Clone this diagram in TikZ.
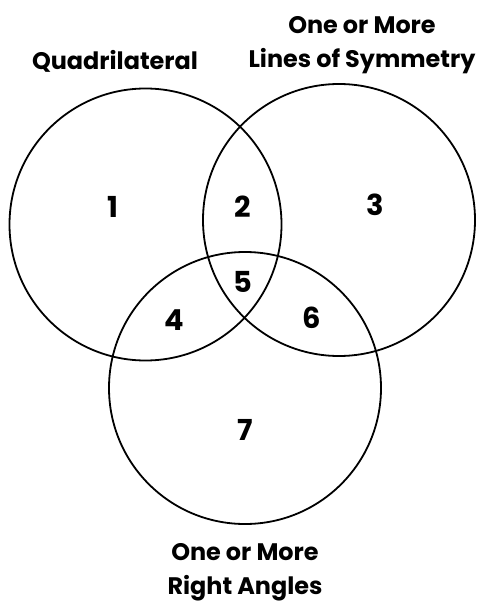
\documentclass[tikz,border=0pt]{standalone}
\usepackage{fontspec}
\setmainfont{Poppins}[UprightFont=* Bold]
\begin{document}
\begin{tikzpicture}[x=1bp,y=-1bp,
  ring/.style={draw,line width=1.8bp,circle,minimum size=272bp,inner sep=0pt},
  num/.style={font=\fontsize{29}{32}\selectfont},
  lab/.style={font=\fontsize{24}{34}\selectfont,align=center}]
\useasboundingbox (0,0) rectangle (480,604);
\node[ring] (A) at (145.5,224.5) {};
\node[ring] (B) at (339,220) {};
\node[ring] (C) at (245,388) {};
\node[num] (n1) at (113,207) {1};
\node[num] (n2) at (243,207) {2};
\node[num] (n3) at (375,205) {3};
\node[num] (n5) at (243,282) {5};
\node[num] (n4) at (174,320) {4};
\node[num] (n6) at (312,318) {6};
\node[num] (n7) at (245,430) {7};
\node[lab] (la) at (115,61) {Quadrilateral};
\node[lab] (lb) at (362,45) {One or More\\Lines of Symmetry};
\node[lab] (lc) at (245,572) {One or More\\Right Angles};
\end{tikzpicture}
\end{document}
